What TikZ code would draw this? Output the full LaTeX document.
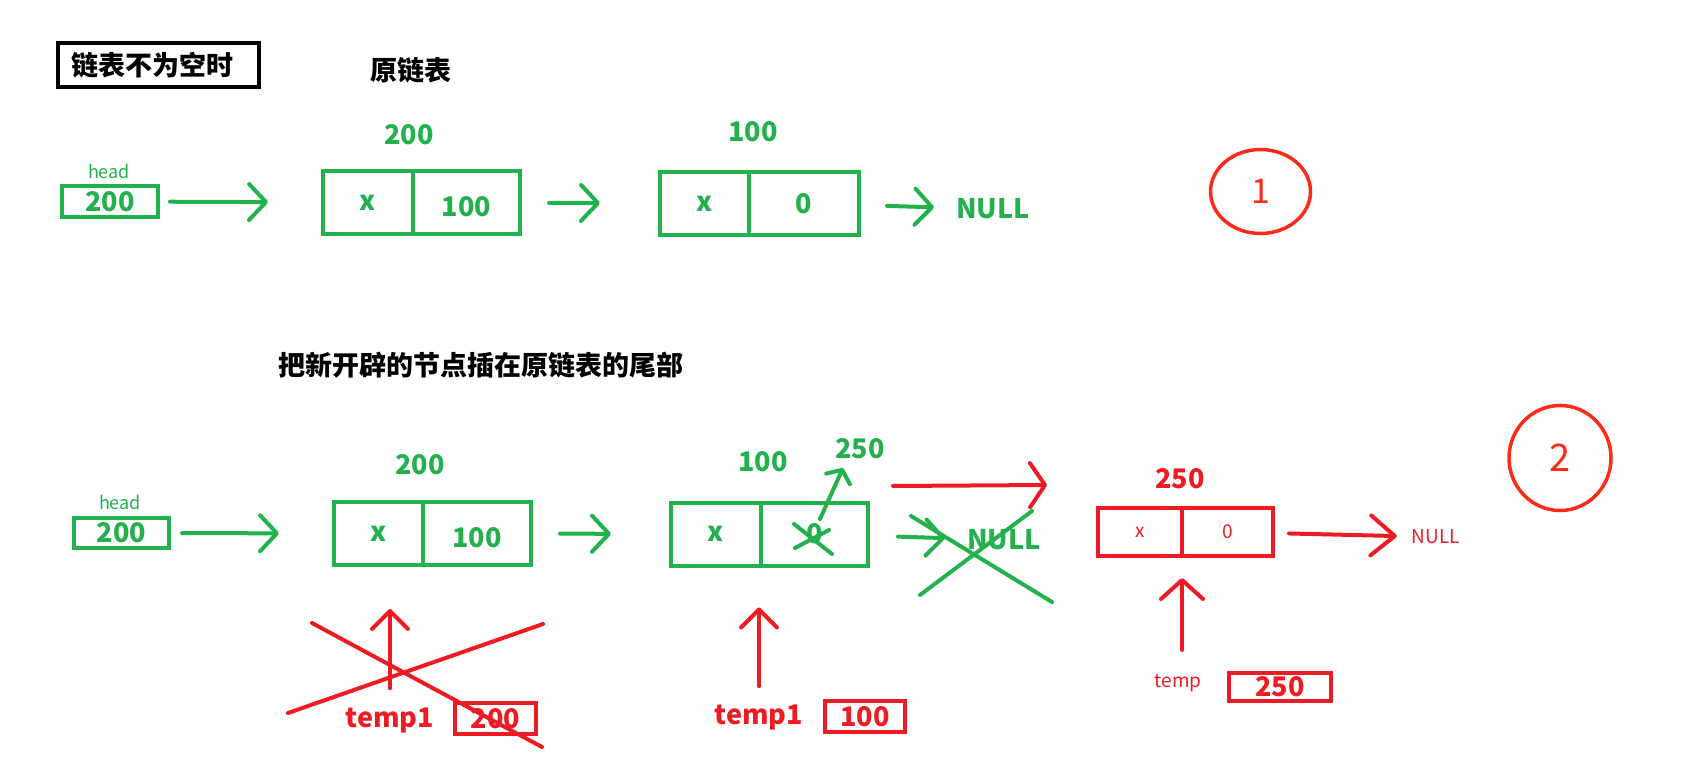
\documentclass[tikz,border=0pt]{standalone}
\usepackage{fontspec}
\setmainfont{Noto Sans CJK SC}
\usepackage{xcolor}
\definecolor{paintgreen}{HTML}{22B14C}
\definecolor{paintred}{HTML}{ED1C24}
\definecolor{ringred}{HTML}{FF2A1A}
\usetikzlibrary{arrows.meta,positioning,shapes.geometric}
\newcommand{\pxfont}[1]{\fontsize{#1}{#1}\selectfont}
\tikzset{
  cellnode/.style={
    rectangle, draw=paintgreen, line width=4pt, inner sep=0pt, outer sep=0pt,
    minimum height=63pt, text=paintgreen, font=\pxfont{27}\bfseries
  },
  lowcell/.style={cellnode, text height=28.5pt, text depth=0pt},
  redcell/.style={
    rectangle, draw=paintred, line width=4.5pt, inner sep=0pt, outer sep=0pt,
    minimum height=48pt, text=paintred, font=\pxfont{19}
  },
  addrlabel/.style={font=\pxfont{27}\bfseries, inner sep=0pt},
  ptrbox/.style={
    rectangle, line width=4pt, inner sep=0pt, outer sep=0pt,
    font=\pxfont{27}\bfseries
  },
  smalllabel/.style={font=\pxfont{18}, inner sep=0pt},
  titletext/.style={font=\pxfont{27}\bfseries, inner sep=0pt},
  garrow/.style={-{Straight Barb[length=17pt,width=36pt,round]}, line width=4pt, draw=paintgreen, line cap=round},
  rarrow/.style={-{Straight Barb[length=18pt,width=36pt,round]}, line width=4pt, draw=paintred, line cap=round},
  strike/.style={line width=4pt, line cap=round},
  stepring/.style={
    ellipse, draw=ringred, line width=3.5pt, inner sep=0pt, outer sep=0pt,
    text=ringred, font=\pxfont{34}
  }
}

\begin{document}
\begin{tikzpicture}[x=1pt,y=-1pt]
  \useasboundingbox (0,0) rectangle (1683,775);

  % case 1: the original list
  \node[titletext, draw=black, line width=4pt, inner xsep=13pt, text width=175pt,
        minimum height=44pt, align=left] (case) at (158.5,65) {链表不为空时};
  \node[titletext] (origtitle) at (411,70) {原链表};

  \node[smalllabel, text=paintgreen] (headlbl) at (109,171) {head};
  \node[ptrbox, draw=paintgreen, text=paintgreen, minimum width=96pt, minimum height=31pt] (head) at (110,201.5) {200};

  \node[addrlabel, text=paintgreen] (a1addr) at (409,135) {200};
  \node[cellnode, minimum width=90pt] (a1x) at (368,202.5) {x};
  \node[lowcell, minimum width=107pt, anchor=west] (a1n) at (a1x.east) {100};

  \node[addrlabel, text=paintgreen] (a2addr) at (753,132) {100};
  \node[cellnode, minimum width=89pt] (a2x) at (704.5,203.5) {x};
  \node[cellnode, minimum width=110pt, anchor=west] (a2n) at (a2x.east) {0};

  \node[addrlabel, text=paintgreen] (null1) at (993,209) {NULL};
  \node[stepring, minimum width=100pt, minimum height=84pt] (ring1) at (1260.5,191.5) {1};

  \draw[garrow, shorten <=12pt, shorten >=55pt] (head) -- (a1x);
  \draw[garrow, shorten <=29pt, shorten >=60pt] (a1n) -- (a2x);
  \draw[garrow, shorten <=28pt, shorten >=22pt] (a2n) -- (null1);

  % case 2: append the new node at the tail
  \node[titletext] (case2) at (481,365) {把新开辟的节点插在原链表的尾部};

  \node[smalllabel, text=paintgreen] (headlbl2) at (120,502) {head};
  \node[ptrbox, draw=paintgreen, text=paintgreen, minimum width=95pt, minimum height=30pt] (head2) at (121.5,533) {200};

  \node[addrlabel, text=paintgreen] (b1addr) at (420,465) {200};
  \node[cellnode, minimum width=89pt] (b1x) at (378.5,533.5) {x};
  \node[lowcell, minimum width=108pt, anchor=west] (b1n) at (b1x.east) {100};

  \node[addrlabel, text=paintgreen] (b2addr) at (763,462) {100};
  \node[addrlabel, text=paintgreen] (b2new) at (860,449) {250};
  \node[cellnode, minimum width=90pt] (b2x) at (716,534) {x};
  \node[cellnode, minimum width=107pt, anchor=west] (b2n) at (b2x.east) {0};
  \node[addrlabel, text=paintgreen] (null2) at (1004,540) {NULL};

  \node[addrlabel, text=paintred] (c1addr) at (1180,479) {250};
  \node[redcell, minimum width=84pt] (c1x) at (1140,532) {x};
  \node[redcell, minimum width=91pt, anchor=west] (c1n) at (c1x.east) {0};
  \node[smalllabel, text=paintred, font=\pxfont{19}] (null3) at (1436,537) {NULL};
  \node[stepring, minimum width=102pt, minimum height=105pt, font=\pxfont{38}] (ring2) at (1560,458) {2};

  \node[addrlabel, text=paintred] (t1old) at (390,720) {temp1};
  \node[ptrbox, draw=paintred, text=paintred, minimum width=81pt, minimum height=31pt] (t1oldbox) at (495.5,718.5) {200};
  \node[addrlabel, text=paintred] (t1) at (759,717) {temp1};
  \node[ptrbox, draw=paintred, text=paintred, minimum width=80pt, minimum height=31pt] (t1box) at (865,716.5) {100};
  \node[smalllabel, text=paintred, font=\pxfont{19}] (tmp) at (1178,683) {temp};
  \node[ptrbox, draw=paintred, text=paintred, minimum width=102pt, minimum height=28pt] (tmpbox) at (1280,687) {250};

  \draw[garrow, shorten <=13pt, shorten >=55pt] (head2) -- (b1x);
  \draw[garrow, shorten <=29pt, shorten >=60pt] (b1n) -- (b2x);
  \draw[garrow, shorten <=30pt, shorten >=22pt] (b2n) -- (null2);
  \draw[rarrow, -{Straight Barb[length=24pt,width=40pt,round]}, shorten <=16pt, shorten >=15pt] (c1n) -- (null3);

  \draw[rarrow, shorten <=19pt, shorten >=44pt] (t1old.north) -- (t1old.north |- b1x.south);
  \draw[rarrow, shorten <=18pt, shorten >=42pt] (t1.north) -- (t1.north |- b2x.south);
  \draw[rarrow, -{Straight Barb[length=19pt,width=42pt,round]}, shorten <=24pt, shorten >=22pt] (c1x.south east |- tmp.north) -- (c1x.south east);

  % relinking: old next pointer and new link
  \coordinate (oldnextA) at (820,519);
  \coordinate (oldnextB) at (843,468);
  \draw[garrow, -{Straight Barb[length=10pt,width=26pt,round]}] (oldnextA) -- (oldnextB);
  \coordinate (relinkA) at (893,486);
  \coordinate (relinkB) at (1047,485);
  \draw[rarrow, -{Straight Barb[length=15pt,width=44pt,round]}] (relinkA) -- (relinkB);

  % crossed out
  \draw[strike, paintgreen] (794,524) -- (832,554) (795,548) -- (829,530);
  \draw[strike, paintgreen] (911,516) -- (1052,602) (920,595) -- (1032,511);
  \draw[strike, paintred] (312,623) -- (542,747) (288,713) -- (543,624);
\end{tikzpicture}
\end{document}
